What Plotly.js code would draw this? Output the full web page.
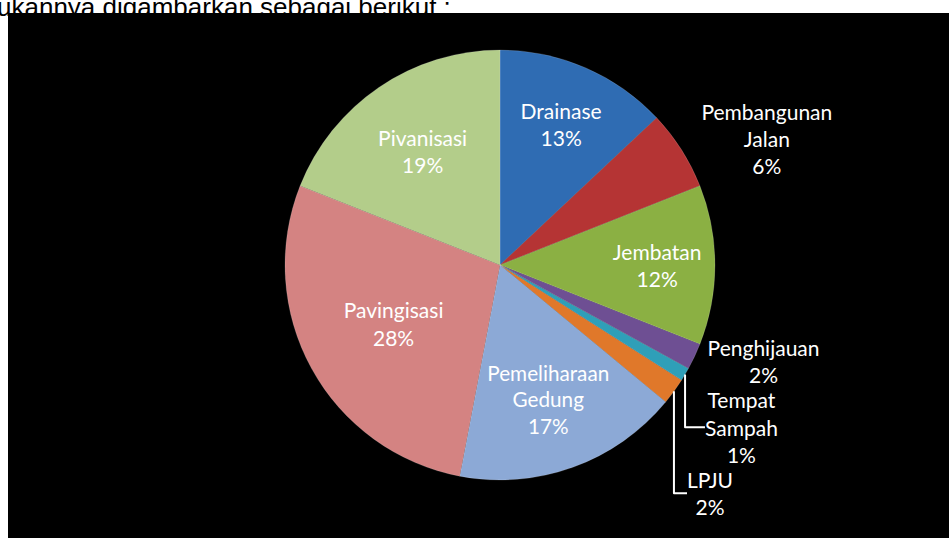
<!DOCTYPE html>
<html>
<head>
<meta charset="utf-8">
<script src="https://cdn.plot.ly/plotly-3.0.1.min.js"></script>
<style>html,body{margin:0;padding:0;background:#fff;}#chart{width:949px;height:538px;}</style>
</head>
<body>
<div id="chart"></div>
<script>
const categories = ["Drainase", "Pembangunan<br>Jalan", "Jembatan", "Penghijauan", "Tempat<br>Sampah", "LPJU", "Pemeliharaan<br>Gedung", "Pavingisasi", "Pivanisasi"];
const values = [13, 6, 12, 2, 1, 2, 17, 28, 19];
const colors = ["#2f6cb3", "#b53434", "#8bb043", "#6e4f93", "#2f9fb8", "#e0782a", "#8ca9d6", "#d48382", "#b3cd8a"];
const labelPlacement = ["inside", "outside", "inside", "outside", "outside", "outside", "inside", "inside", "inside"];
const captionText = "ukannya digambarkan sebagai berikut :";

const W = 949, H = 538;
const fontFam = "Lato, 'Noto Sans', sans-serif";
const data = [{
  type: "pie",
  labels: categories,
  values: values,
  sort: false,
  direction: "clockwise",
  rotation: 0,
  marker: {colors: colors, line: {color: "rgba(255,255,255,0.15)", width: 1}},
  texttemplate: "%{label}<br>%{value}%",
  textposition: labelPlacement,
  insidetextorientation: "horizontal",
  textfont: {family: fontFam, size: 21, color: "#ffffff"},
  outsidetextfont: {family: fontFam, size: 21, color: "#ffffff"},
  insidetextfont: {family: fontFam, size: 21, color: "#ffffff"},
  automargin: false,
  hoverinfo: "label+percent",
  domain: {x: [285 / W, 715 / W], y: [(H - 480) / H, (H - 50) / H]}
}];

const layout = {
  width: W, height: H,
  margin: {l: 0, r: 0, t: 0, b: 0},
  paper_bgcolor: "#ffffff",
  showlegend: false,
  shapes: [{
    type: "rect", xref: "paper", yref: "paper", layer: "below",
    x0: 8 / W, x1: 1, y0: 0, y1: (H - 13) / H,
    fillcolor: "#000000", line: {width: 0}
  }],
  annotations: [{
    text: captionText, xref: "paper", yref: "paper",
    x: -5 / W, y: (H + 10) / H, xanchor: "left", yanchor: "top",
    showarrow: false,
    font: {family: "'Liberation Sans', Arial, sans-serif", size: 26, color: "#000000"}
  }]
};

Plotly.newPlot("chart", data, layout, {displayModeBar: false, staticPlot: true});
</script>
</body>
</html>
